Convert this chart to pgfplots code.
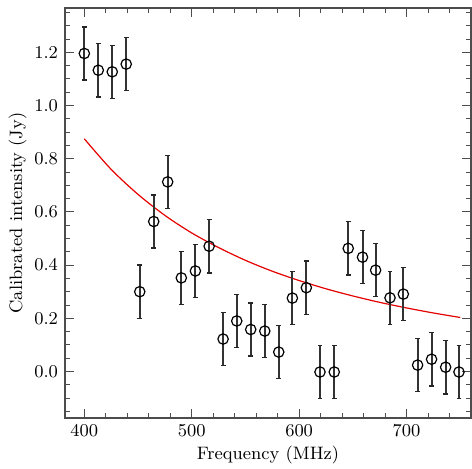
\documentclass[border=0pt]{standalone}
\usepackage{pgfplots}
\pgfplotsset{compat=1.18}
\usepackage{pgfplotstable}

% Calibrated flux density per channel, with 1-sigma uncertainties
\pgfplotstableread{
f      S       e
400.0  1.196   0.10
413.0  1.133   0.10
426.0  1.127   0.10
439.0  1.156   0.10
451.6  0.300   0.10
464.6  0.564   0.10
477.6  0.713   0.10
490.3  0.352   0.10
503.4  0.378   0.10
516.2  0.471   0.10
529.2  0.122   0.10
541.9  0.190   0.10
554.9  0.158   0.10
568.0  0.152   0.10
581.0  0.073   0.10
593.7  0.276   0.10
606.7  0.315   0.10
619.4  -0.002  0.10
632.7  -0.002  0.10
645.7  0.463   0.10
659.0  0.430   0.10
671.2  0.381   0.10
684.6  0.277   0.10
697.0  0.291   0.10
710.3  0.024   0.10
723.3  0.046   0.10
736.4  0.016   0.10
748.8  -0.002  0.10
}\fluxdata

% Fitted power-law spectrum, tabulated
\pgfplotstableread{
f    S
400  0.875
425  0.760
450  0.666
475  0.587
500  0.521
525  0.466
550  0.418
575  0.377
600  0.342
625  0.311
650  0.284
675  0.260
700  0.239
725  0.220
750  0.203
}\fitdata

\begin{document}
\begin{tikzpicture}
\begin{axis}[
  scale only axis,
  width=203pt, height=205pt,
  xmin=382, xmax=760,
  ymin=-0.175, ymax=1.367,
  xtick={400,500,600,700},
  ytick={0,0.2,0.4,0.6,0.8,1.0,1.2},
  yticklabel style={/pgf/number format/.cd,fixed,fixed zerofill,precision=1},
  minor xtick={380,400,...,760},
  minor ytick={-0.15,-0.1,...,1.36},
  tick align=inside,
  major tick length=4.5pt,
  minor tick length=2.5pt,
  tick style={black!70, line width=0.5pt},
  axis line style={black!70, line width=0.6pt},
  xtick pos=both, ytick pos=both,
  xticklabel pos=lower, yticklabel pos=left,
  ticklabel style={font=\fontsize{9}{10}\selectfont},
  label style={font=\fontsize{9}{10}\selectfont},
  xlabel={Frequency (MHz)},
  ylabel={Calibrated intensity (Jy)},
  xlabel style={yshift=2pt},
  ylabel style={yshift=-3pt},
  clip=false,
]
\addplot[red!90!black, line width=0.6pt, smooth] table[x=f, y=S] {\fitdata};
\addplot[black!85, line width=1pt, only marks,
  mark=o, mark size=2.6pt, mark options={line width=0.6pt, black},
  error bars/.cd, y dir=both, y explicit,
  error mark options={rotate=90, mark size=1.2pt, line width=0.7pt, black!85},
  error bar style={line width=1pt, black!80}]
  table[x=f, y=S, y error=e] {\fluxdata};
\end{axis}
\pgfresetboundingbox
\path (-32.5pt,-25pt) rectangle (203.5pt,209pt);
\end{tikzpicture}
\end{document}
